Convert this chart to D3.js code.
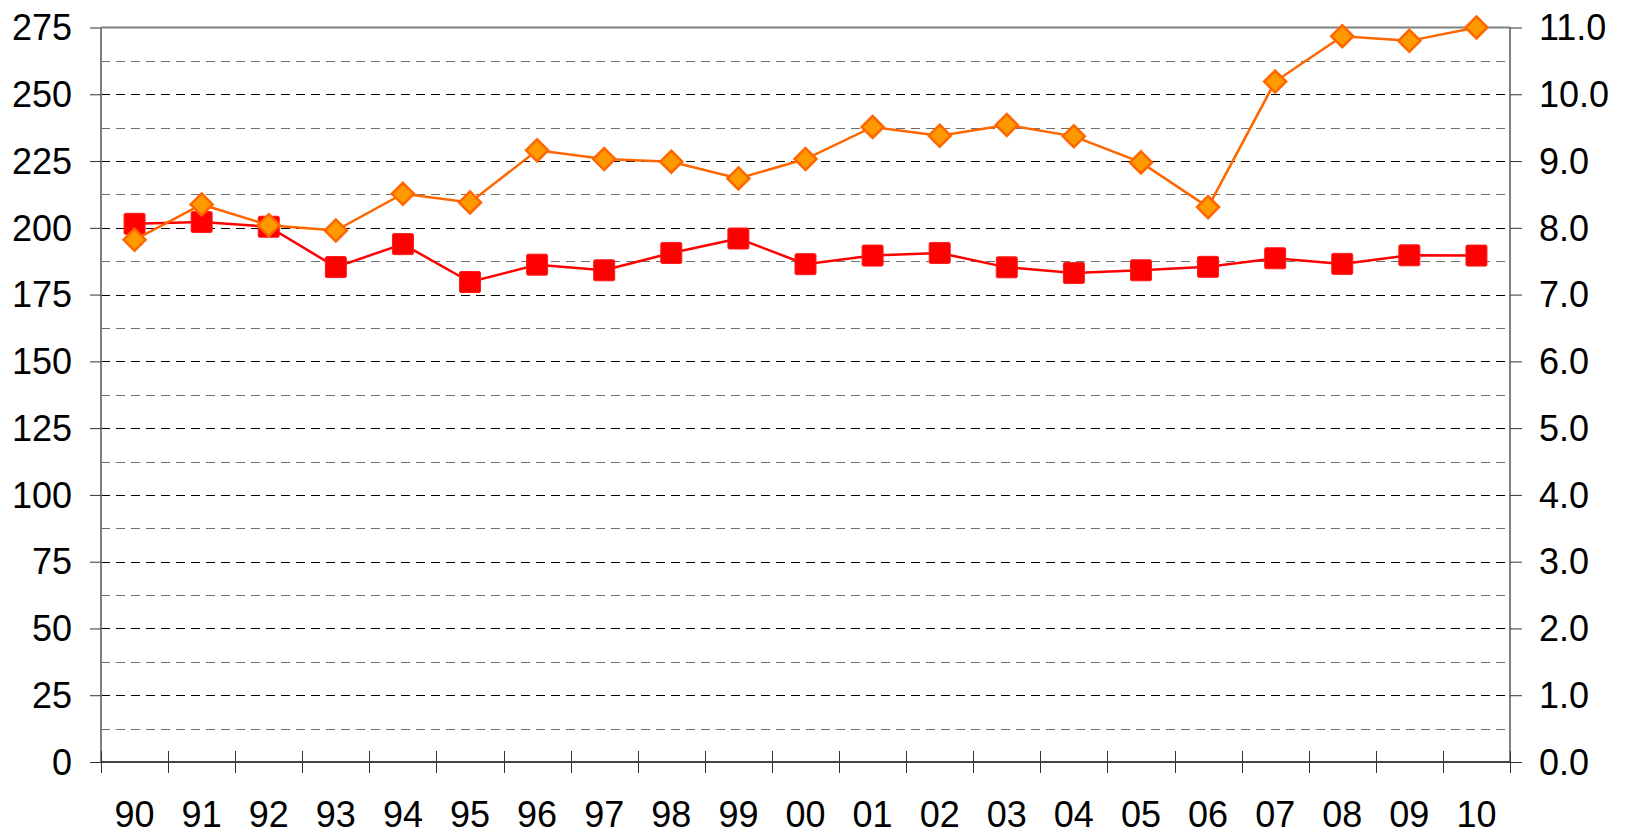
<!DOCTYPE html>
<html>
<head>
<meta charset="utf-8">
<script src="https://cdn.jsdelivr.net/npm/d3@7"></script>
<style>
  body { margin: 0; background: #fff; }
  svg text { font-family: "Liberation Sans", Arial, sans-serif; fill: #000; }
</style>
</head>
<body>
<div id="chart"></div>
<script>
// years on the x axis
let years = ["90","91","92","93","94","95","96","97","98","99","00","01","02","03","04","05","06","07","08","09","10"];
// red squares, left axis
let redValues = [201.5, 202.2, 200.4, 185.3, 193.9, 179.7, 186.2, 184.1, 190.6, 196.0, 186.4, 189.6, 190.6, 185.2, 183.1, 184.1, 185.4, 188.6, 186.5, 189.7, 189.6];
// orange diamonds, right axis
let orangeValues = [7.82, 8.35, 8.04, 7.96, 8.51, 8.38, 9.16, 9.03, 8.99, 8.74, 9.03, 9.51, 9.38, 9.54, 9.37, 8.98, 8.31, 10.19, 10.87, 10.80, 11.0];
let leftTicks = [0, 25, 50, 75, 100, 125, 150, 175, 200, 225, 250, 275];
let rightTicks = [0, 1, 2, 3, 4, 5, 6, 7, 8, 9, 10, 11];

function mainChart() {
    let W = 1627, H = 833;
    let left = 101, right = 1510, top = 27.5, bottom = 762;
    let fontSize = "36px";

    let svg = d3.select("#chart").append("svg")
        .attr("width", W)
        .attr("height", H);

    svg.append("rect").attr("width", W).attr("height", H).attr("fill", "#fff");

    let x = d3.scaleLinear().domain([0, years.length]).range([left, right]);
    let yL = d3.scaleLinear().domain([0, 275]).range([bottom, top]);
    let yR = d3.scaleLinear().domain([0, 11]).range([bottom, top]);

    // dashed gridlines, major every 25 and minor halfway
    let gridVals = d3.range(12.5, 275, 12.5);
    svg.append("g").selectAll("line")
        .data(gridVals)
        .enter().append("line")
        .attr("x1", left).attr("x2", right)
        .attr("y1", d => Math.round(yL(d)) + 0.5)
        .attr("y2", d => Math.round(yL(d)) + 0.5)
        .attr("stroke", d => d % 25 == 0 ? "#000" : "#707070")
        .attr("stroke-width", 1)
        .attr("stroke-dasharray", "9,6");

    // frame
    svg.append("line").attr("x1", left).attr("x2", right).attr("y1", top).attr("y2", top)
        .attr("stroke", "#808080").attr("stroke-width", 2);
    svg.append("line").attr("x1", left).attr("x2", left).attr("y1", top).attr("y2", bottom)
        .attr("stroke", "#808080").attr("stroke-width", 2);
    svg.append("line").attr("x1", right).attr("x2", right).attr("y1", top).attr("y2", bottom)
        .attr("stroke", "#808080").attr("stroke-width", 2);

    // left axis
    let axL = svg.append("g")
        .attr("transform", "translate(" + left + ",0)")
        .call(d3.axisLeft(yL).tickValues(leftTicks).tickSize(11).tickPadding(18).tickFormat(d3.format("d")));
    axL.select(".domain").remove();
    axL.selectAll(".tick line").attr("stroke", "#333");
    axL.selectAll("text").style("font-size", fontSize).attr("dy", "0.34em");

    // right axis
    let axR = svg.append("g")
        .attr("transform", "translate(" + right + ",0)")
        .call(d3.axisRight(yR).tickValues(rightTicks).tickSize(12).tickPadding(17).tickFormat(d3.format(".1f")));
    axR.select(".domain").remove();
    axR.selectAll(".tick line").attr("stroke", "#333");
    axR.selectAll("text").style("font-size", fontSize).attr("dy", "0.34em");

    // bottom axis with ticks between categories
    svg.append("line").attr("x1", left).attr("x2", right).attr("y1", bottom).attr("y2", bottom)
        .attr("stroke", "#444").attr("stroke-width", 2);
    svg.append("g").selectAll("line")
        .data(d3.range(years.length + 1))
        .enter().append("line")
        .attr("x1", d => Math.round(x(d)) + 0.5).attr("x2", d => Math.round(x(d)) + 0.5)
        .attr("y1", bottom - 11).attr("y2", bottom + 11)
        .attr("stroke", "#333").attr("stroke-width", 1);
    svg.append("g").selectAll("text")
        .data(years)
        .enter().append("text")
        .attr("x", (d, i) => x(i + 0.5))
        .attr("y", bottom + 64.5)
        .attr("text-anchor", "middle")
        .style("font-size", fontSize)
        .text(d => d);

    // red series
    let redLine = d3.line()
        .x((d, i) => x(i + 0.5))
        .y(d => yL(d));
    svg.append("path")
        .datum(redValues)
        .attr("d", redLine)
        .attr("fill", "none")
        .attr("stroke", "#ff0000")
        .attr("stroke-width", 2.5);
    let sq = 21;
    svg.append("g").selectAll("rect")
        .data(redValues)
        .enter().append("rect")
        .attr("x", (d, i) => x(i + 0.5) - sq / 2)
        .attr("y", d => yL(d) - sq / 2)
        .attr("width", sq).attr("height", sq)
        .attr("rx", 1.5)
        .attr("fill", "#ff0000")
        .attr("stroke", "#ff1a1a")
        .attr("stroke-width", 1);

    // orange series
    let orangeLine = d3.line()
        .x((d, i) => x(i + 0.5))
        .y(d => yR(d));
    svg.append("path")
        .datum(orangeValues)
        .attr("d", orangeLine)
        .attr("fill", "none")
        .attr("stroke", "#ff6600")
        .attr("stroke-width", 2.5);
    let r = 11;
    svg.append("g").selectAll("path.dia")
        .data(orangeValues)
        .enter().append("path")
        .attr("class", "dia")
        .attr("transform", (d, i) => "translate(" + x(i + 0.5) + "," + yR(d) + ")")
        .attr("d", "M0," + (-r) + "L" + r + ",0L0," + r + "L" + (-r) + ",0Z")
        .attr("fill", "#ff9900")
        .attr("stroke", "#ff6600")
        .attr("stroke-width", 2.5)
        .attr("stroke-linejoin", "miter");
}

mainChart();
</script>
</body>
</html>
